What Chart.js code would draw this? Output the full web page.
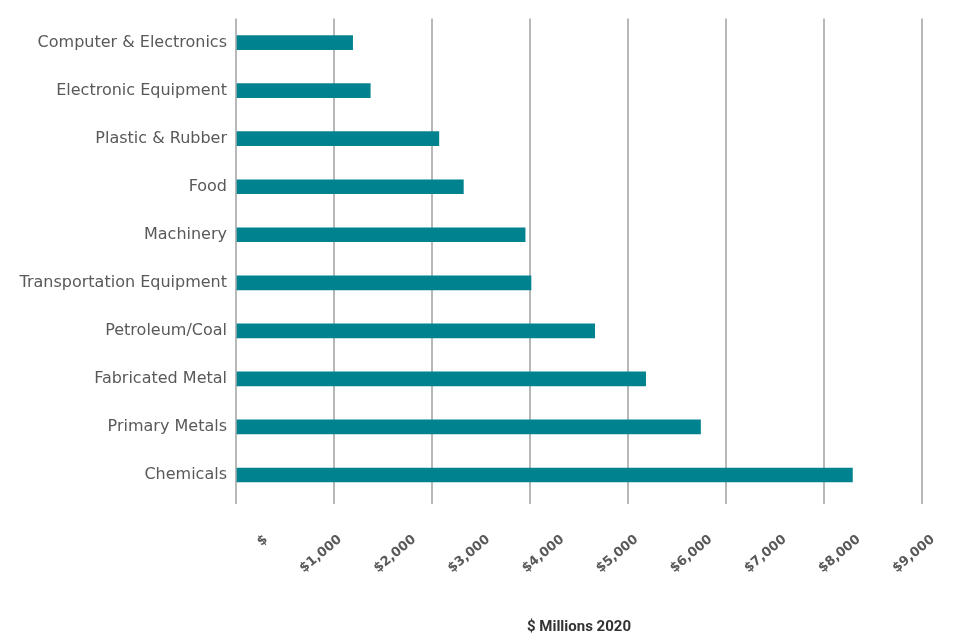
<!DOCTYPE html>
<html>
<head>
<meta charset="utf-8">
<title>$ Millions 2020 by industry</title>
<script src="https://cdn.jsdelivr.net/npm/chart.js"></script>
<style>
  html, body { margin: 0; padding: 0; background: #fff; }
</style>
</head>
<body>
<canvas id="bars" width="957" height="642"></canvas>
<script>
var industries = [
  'Computer & Electronics',
  'Electronic Equipment',
  'Plastic & Rubber',
  'Food',
  'Machinery',
  'Transportation Equipment',
  'Petroleum/Coal',
  'Fabricated Metal',
  'Primary Metals',
  'Chemicals'
];
var millions = [1190, 1370, 2070, 2320, 2950, 3010, 3660, 4180, 4740, 6290];
var tickValues = [0, 1000, 2000, 3000, 4000, 5000, 6000, 7000, 8000, 9000];
var tickLabels = ['$', '$1,000', '$2,000', '$3,000', '$4,000', '$5,000', '$6,000', '$7,000', '$8,000', '$9,000'];

var grey = '#595959';

// no extra padding from rotated labels, chart area is set by layout
function noPad(s) { s.paddingLeft = 0; s.paddingRight = 0; }

var ctx = document.getElementById('bars').getContext('2d');
var chart = new Chart(ctx, {
  type: 'bar',
  data: {
    labels: industries,
    datasets: [{
      data: millions,
      backgroundColor: '#00838f',
      borderWidth: 0,
      barThickness: 14,
      xAxisID: 'x',
      yAxisID: 'y'
    }]
  },
  options: {
    indexAxis: 'y',
    responsive: false,
    animation: false,
    layout: { padding: { top: 8, right: 35, bottom: 4, left: 0 } },
    plugins: {
      legend: { display: false },
      tooltip: { enabled: false }
    },
    scales: {
      x: {
        type: 'linear',
        position: 'bottom',
        weight: 0,
        min: 0,
        max: 7000,
        ticks: { display: false, stepSize: 1000 },
        grid: { color: '#b8b8b8', lineWidth: 2, tickLength: 5, drawTicks: true },
        border: { display: false },
        afterFit: noPad
      },
      x2: {
        type: 'linear',
        position: 'bottom',
        weight: 1,
        min: -405,
        max: 8853,
        grid: { display: false, drawTicks: false },
        border: { display: false },
        afterBuildTicks: function (s) {
          s.ticks = tickValues.map(function (v) { return { value: v }; });
        },
        ticks: {
          autoSkip: false,
          minRotation: 40,
          maxRotation: 40,
          padding: 28,
          color: grey,
          font: { family: 'DejaVu Sans', weight: 'bold', size: 13 },
          callback: function (v) { return tickLabels[tickValues.indexOf(v)]; }
        },
        title: {
          display: true,
          text: '$ Millions 2020',
          color: '#333333',
          font: { family: 'Roboto', weight: 'bold', size: 15 },
          padding: { top: 0, bottom: 2 }
        },
        afterFit: function (s) { noPad(s); s.height = 134; }
      },
      y: {
        type: 'category',
        grid: { display: false, drawTicks: false },
        border: { display: false },
        ticks: {
          padding: 9,
          color: grey,
          font: { family: 'DejaVu Sans', size: 16 }
        },
        afterFit: function (s) { s.width = 236; }
      }
    }
  }
});
</script>
</body>
</html>
